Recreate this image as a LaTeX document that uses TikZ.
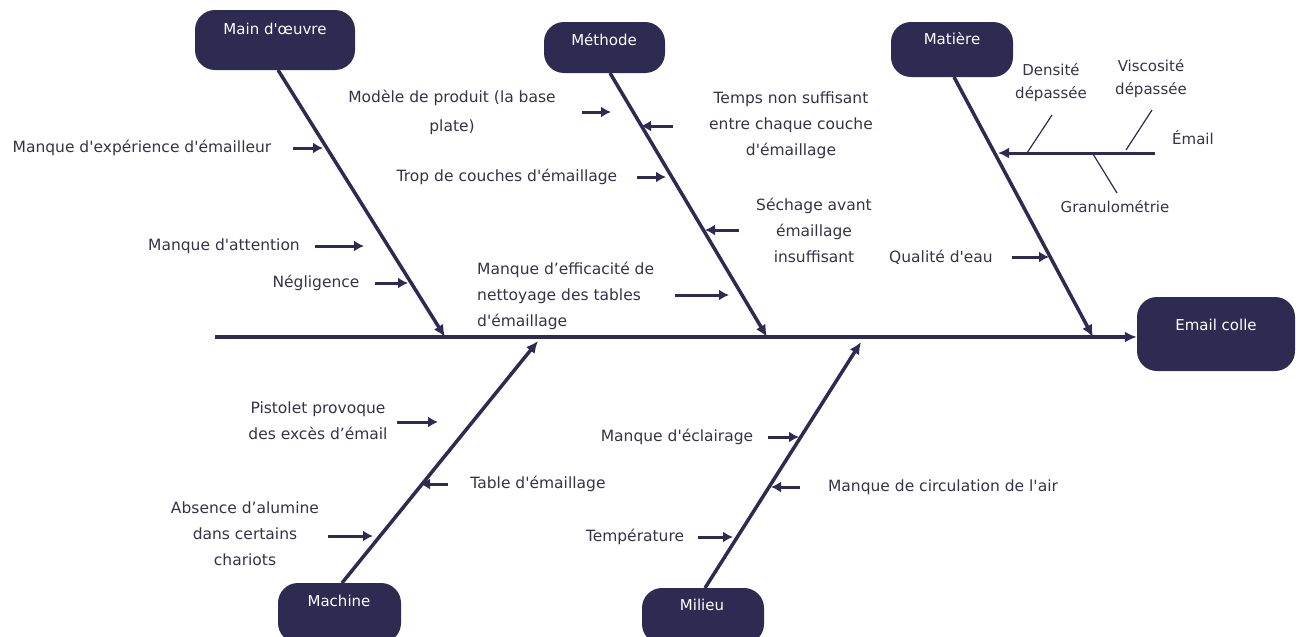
\documentclass[tikz,border=0pt]{standalone}
\usepackage{fontspec}
\setmainfont{DejaVu Sans}[Ligatures=TeXOff]
\usetikzlibrary{arrows.meta}
\definecolor{navy}{RGB}{47,42,82}
\definecolor{ink}{RGB}{55,50,72}
\begin{document}
\begin{tikzpicture}[x=1pt,y=-1pt,
  catbox/.style={fill=navy, rounded corners=20pt, inner sep=0pt},
  cattext/.style={text=white, font=\fontsize{15}{18}\selectfont, inner sep=0pt},
  lbl/.style={text=ink, font=\fontsize{15.5}{26}\selectfont, align=center, inner sep=0pt},
  small/.style={lbl, font=\fontsize{15}{23}\selectfont},
  bone/.style={draw=navy, line width=3.5pt, -{Latex[length=12pt,width=11pt]}},
  twig/.style={draw=navy, line width=3pt, -{Latex[length=10pt,width=11pt]}},
  hair/.style={draw=navy, line width=1.2pt}]
\useasboundingbox[fill=white] (0,0) rectangle (1302,637);

% category boxes
\node[catbox, minimum width=160pt, minimum height=60pt] (mo) at (275,40) {};
\node[cattext] (mot) at (275,29) {Main d'œuvre};
\node[catbox, minimum width=121pt, minimum height=51pt] (me) at (604.5,47.5) {};
\node[cattext] (met) at (604,40) {Méthode};
\node[catbox, minimum width=122pt, minimum height=55pt] (ma) at (952,49.5) {};
\node[cattext] (mat) at (952,39) {Matière};
\node[catbox, minimum width=158pt, minimum height=74pt] (ec) at (1216,334) {};
\node[cattext] (ect) at (1216,325) {Email colle};
\node[catbox, minimum width=123pt, minimum height=60pt] (mc) at (339.5,613) {};
\node[cattext] (mct) at (339,601) {Machine};
\node[catbox, minimum width=122pt, minimum height=56pt] (mi) at (703,616) {};
\node[cattext] (mit) at (702,605) {Milieu};

% spine and bones
\coordinate (tail) at (215,337);
\draw[bone] (tail) -- (ec.west |- tail);
\coordinate (bmo) at (445,337);
\coordinate (bme) at (767,337);
\coordinate (bma) at (1093,337);
\coordinate (bmc) at (538,341);
\coordinate (bmi) at (861,342);
\draw[bone] (278,70) -- (bmo);
\draw[bone] (610,73) -- (bme);
\draw[bone] (954,77) -- (bma);
\draw[bone] (342,583) -- (bmc);
\draw[bone] (705,588) -- (bmi);

% Main d'oeuvre
\node[lbl] (l1) at (142,148) {Manque d'expérience d'émailleur};
\draw[twig] (293,148) -- (323,148);
\node[lbl] (l2) at (224,246) {Manque d'attention};
\draw[twig] (315,246) -- (364,246);
\node[lbl] (l3) at (316,283) {Négligence};
\draw[twig] (375,283) -- (408,283);

% Methode
\node[lbl, font=\fontsize{15.5}{29}\selectfont] (l4) at (452,112) {Modèle de produit (la base\\plate)};
\draw[twig] (582,112) -- (611,112);
\node[lbl] (l5) at (791,125) {Temps non suffisant\\entre chaque couche\\d'émaillage};
\draw[twig] (673,126) -- (641,126);
\node[lbl] (l6) at (507,177) {Trop de couches d'émaillage};
\draw[twig] (637,177) -- (666,177);
\node[lbl] (l7) at (814,230) {Séchage avant\\émaillage\\insuffisant};
\draw[twig] (739,230) -- (705,230);
\node[lbl, align=left, anchor=west] (l8) at (477,296) {Manque d’efficacité de\\nettoyage des tables\\d'émaillage};
\draw[twig] (675,295) -- (729,295);

% Matiere
\coordinate (em0) at (1155,153);
\coordinate (em1) at (998,153);
\draw[bone, line width=3pt, -{Latex[length=11pt,width=11pt]}] (em0) -- (em1);
\node[small] (l9) at (1051,83) {Densité\\dépassée};
\draw[hair] (1052,115) -- (1027,153);
\node[small] (l10) at (1151,79) {Viscosité\\dépassée};
\draw[hair] (1152,110) -- (1126,150);
\node[small] (l11) at (1193,138) {Émail};
\draw[hair] (1093,154) -- (1117,193);
\node[small] (l12) at (1115,207) {Granulométrie};
\node[lbl] (l13) at (941,257) {Qualité d'eau};
\draw[twig] (1012,257) -- (1049,257);

% Machine
\node[lbl] (l14) at (318,421) {Pistolet provoque\\des excès d’émail};
\draw[twig] (397,422) -- (438,422);
\node[lbl] (l15) at (538,484) {Table d'émaillage};
\draw[twig] (448,484) -- (420,484);
\node[lbl] (l16) at (245,534) {Absence d’alumine\\dans certains\\chariots};
\draw[twig] (328,536) -- (373,536);

% Milieu
\node[lbl] (l17) at (677,437) {Manque d'éclairage};
\draw[twig] (768,437) -- (799,437);
\node[lbl] (l18) at (943,487) {Manque de circulation de l'air};
\draw[twig] (800,487) -- (771,487);
\node[lbl] (l19) at (635,537) {Température};
\draw[twig] (698,537) -- (733,537);
\end{tikzpicture}
\end{document}
